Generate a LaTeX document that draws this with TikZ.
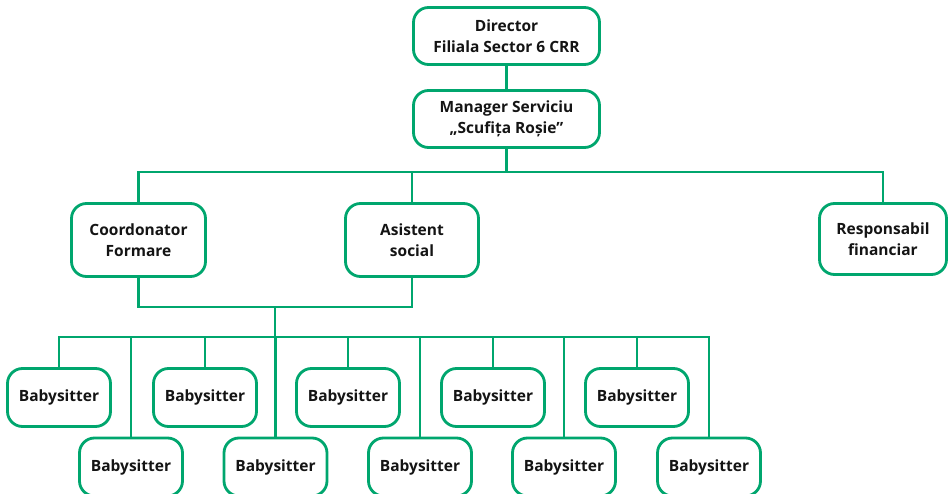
\documentclass[tikz,border=0pt]{standalone}
\usepackage{fontspec}
\setmainfont{Open Sans}
\definecolor{orggreen}{RGB}{0,166,110}
\definecolor{txt}{RGB}{20,20,20}
\begin{document}
\begin{tikzpicture}[x=1pt,y=-1pt,
  box/.style={draw=orggreen, line width=2.8pt, rounded corners=15pt, fill=white,
    inner sep=0pt, align=center, text=txt,
    font=\fontsize{15.5}{20.5}\selectfont\bfseries},
  link/.style={draw=orggreen, line width=2.8pt}]
\useasboundingbox (0,0) rectangle (948,494);
\clip (0,0) rectangle (948,494);
% top
\node[box, minimum width=186pt, minimum height=57pt] (dir) at (506.5,36) {Director\\Filiala Sector 6 CRR};
\node[box, minimum width=186pt, minimum height=57pt] (man) at (506.5,119) {Manager Serviciu\\„Scufița Roșie”};
\node[box, minimum width=134pt, minimum height=73pt] (coord) at (138.5,240) {Coordonator\\Formare};
\node[box, minimum width=133pt, minimum height=73pt] (asis) at (412,240) {Asistent\\social};
\node[box, minimum width=127pt, minimum height=71pt] (resp) at (883,239) {Responsabil\\financiar};
\coordinate (bus1) at (506.5,172);
\coordinate (bus2) at (275,307);
\coordinate (bus3) at (275,337);
% babysitters
\foreach \i/\x in {1/59,2/205,3/348,4/493,5/637}{
  \node[box, minimum width=103pt, minimum height=58pt] (bt\i) at (\x,397.5) {Babysitter};
}
\foreach \i/\x in {1/131,2/275.5,3/420,4/564,5/709}{
  \node[box, minimum width=103pt, minimum height=58pt] (bb\i) at (\x,467) {Babysitter};
}
% connectors
\draw[link] (dir) -- (man);
\draw[link] (man) -- (bus1);
\draw[link] (coord.north) |- (bus1) -| (resp.north);
\draw[link] (asis.north) -- (asis.north |- bus1);
\draw[link] (coord.south) |- (bus2) -| (asis.south);
\draw[link] (bus2) -- (bus3);
\draw[link] (bt1.north) |- (bus3) -| (bb5.north);
\foreach \i in {2,3,4,5}{
  \draw[link] (bt\i.north) -- (bt\i.north |- bus3);
}
\foreach \i in {1,2,3,4}{
  \draw[link] (bb\i.north) -- (bb\i.north |- bus3);
}
\end{tikzpicture}
\end{document}
